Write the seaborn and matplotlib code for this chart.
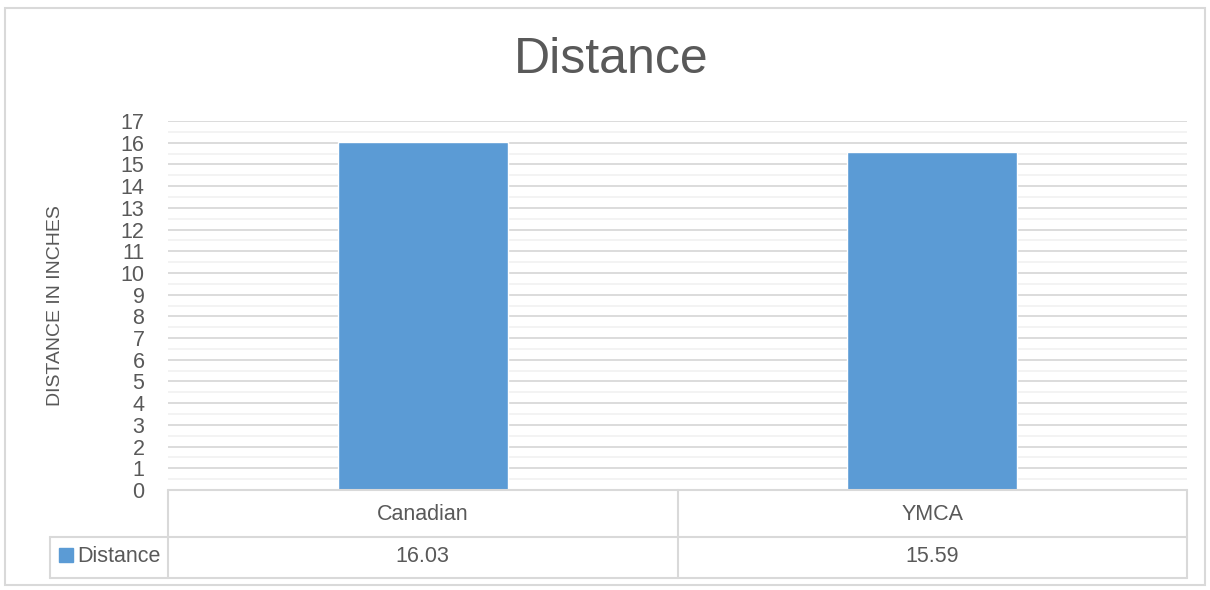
import seaborn as sns
import matplotlib.pyplot as plt
import pandas as pd
from matplotlib.lines import Line2D
from matplotlib.patches import Rectangle

categories = ["Canadian", "YMCA"]
distance = [16.03, 15.59]
value_labels = ["16.03", "15.59"]
series_name = "Distance"

sns.set_theme(style="white")
plt.rcParams["font.family"] = ["Liberation Sans Narrow", "Liberation Sans", "DejaVu Sans"]

bar_color = "#5B9BD5"
text_color = "#595959"
grid_major = "#D9D9D9"
grid_minor = "#F2F2F2"

df = pd.DataFrame({"cat": categories, "d": distance})

fig = plt.figure(figsize=(12.1, 5.9), dpi=100)
W, H = 1210, 590
ax = fig.add_axes([168 / W, 1 - 490 / H, (1187 - 168) / W, (490 - 121) / H])

sns.barplot(df, x="cat", y="d", color=bar_color, width=0.334, ax=ax, saturation=1, zorder=3)

ax.set_ylim(0, 17)
ax.set_xlim(-0.5, 1.5)
ax.set_yticks(range(0, 18))
ax.set_yticks([i + 0.5 for i in range(0, 17)], minor=True)
ax.grid(axis="y", which="major", color=grid_major, linewidth=1.3, zorder=0)
ax.grid(axis="y", which="minor", color=grid_minor, linewidth=1.3, zorder=0)
ax.grid(axis="x", visible=False)
ax.tick_params(axis="y", which="both", length=0, pad=17, labelsize=15.5, labelcolor=text_color)
ax.tick_params(axis="x", length=0, labelbottom=False)
for s in ["top", "right", "left", "bottom"]:
    ax.spines[s].set_visible(False)
ax.set_xlabel("")
ax.set_ylabel("DISTANCE IN INCHES", fontsize=14, color=text_color)
ax.yaxis.set_label_coords((64 - 168) / 1019, 0.5)

fig.text(611 / W, 1 - 60 / H, "Distance", fontsize=36, color=text_color, ha="center", va="center")


def fx(px):
    return px / W


def fy(py):
    return 1 - py / H


# data table lines
lines = [
    ((168, 1187), (490, 490)),
    ((50, 1187), (537, 537)),
    ((50, 1187), (578, 578)),
    ((168, 168), (490, 578)),
    ((678, 678), (490, 578)),
    ((1187, 1187), (490, 578)),
    ((50, 50), (537, 578)),
]
for (x0, x1), (y0, y1) in lines:
    fig.add_artist(Line2D([fx(x0), fx(x1)], [fy(y0), fy(y1)], color=grid_major, linewidth=1.5))

# category names and values in the table
trans = ax.get_xaxis_transform()
for i, (c, v) in enumerate(zip(categories, value_labels)):
    ax.text(i, (490 - 514) / 369, c, transform=trans, ha="center", va="center",
            fontsize=15.5, color=text_color, clip_on=False)
    ax.text(i, (490 - 557) / 369, v, transform=trans, ha="center", va="center",
            fontsize=15.5, color=text_color, clip_on=False)

# legend key in table
fig.add_artist(Rectangle((fx(59), fy(562)), 14 / W, 14 / H, color=bar_color))
fig.text(fx(77), fy(556), series_name, fontsize=15.5, color=text_color, ha="left", va="center")

# outer chart border
fig.add_artist(Rectangle((fx(5), fy(585)), 1200 / W, 577 / H, fill=False,
                         edgecolor=grid_major, linewidth=1.5))

fig.savefig("out.png", dpi=100)
